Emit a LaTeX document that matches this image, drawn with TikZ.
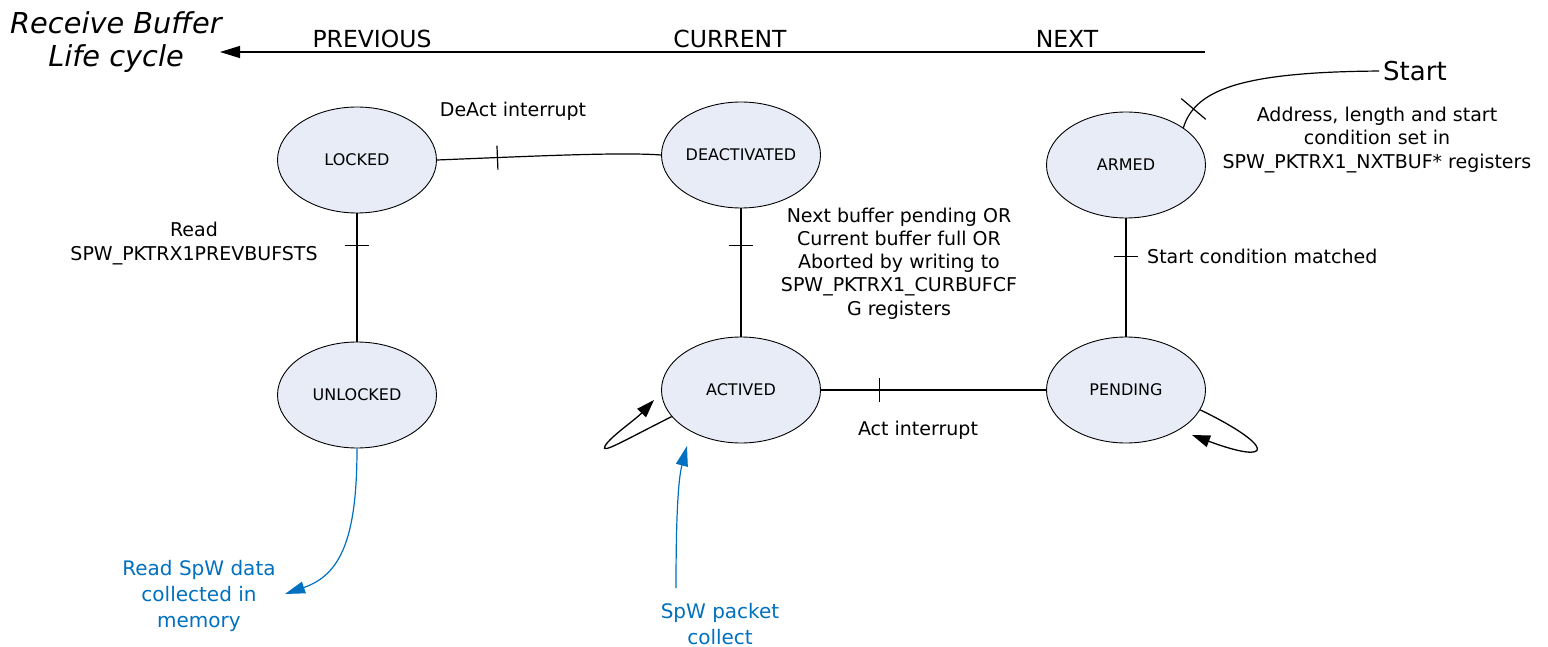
\documentclass[tikz,border=0pt]{standalone}
\usepackage{fontspec}
\setmainfont{DejaVu Sans}
\usetikzlibrary{shapes.geometric,arrows.meta,decorations.markings,calc}
\definecolor{statefill}{RGB}{231,236,247}
\definecolor{noteblue}{RGB}{0,112,192}
\begin{document}
\begin{tikzpicture}[x=1pt,y=1pt,
  state/.style={ellipse, draw=black, line width=0.9pt, fill=statefill,
    minimum width=159pt, minimum height=106pt, inner sep=0pt,
    font=\fontsize{16}{19}\selectfont},
  conn/.style={line width=1.2pt},
  lbl/.style={font=\fontsize{19}{23.25}\selectfont, align=center, inner sep=0pt},
  hdr/.style={font=\fontsize{23.5}{28}\selectfont, inner sep=0pt},
  bluelbl/.style={font=\fontsize{20}{26}\selectfont, align=center, inner sep=0pt, text=noteblue},
  blueconn/.style={line width=1.2pt, draw=noteblue, -{Triangle[length=20pt,width=12pt]}},
  loopconn/.style={line width=1.3pt, -{Triangle[length=18pt,width=12pt]}},
  tickmark/.style={postaction={decorate, decoration={markings,
    mark=at position #1 with {\draw[line width=1.2pt] (0,-12) -- (0,12);}}}},
  longtick/.style={postaction={decorate, decoration={markings,
    mark=at position #1 with {\draw[line width=1.2pt] (0,-16) -- (0,16);}}}}
]
\useasboundingbox (0,0) rectangle (1548,-647);

% title and life-cycle arrow
\node[font=\fontsize{28.8}{33}\selectfont\itshape, align=center, inner sep=0pt] (title) at (116,-41.8) {Receive Buffer\\Life cycle};
\coordinate (arrR) at (1205,-52);
\coordinate (arrL) at (220,-52);
\draw[conn, -{Triangle[length=20pt,width=12pt]}] (arrR) -- (arrL);
\node[hdr, anchor=base] (prev) at (372,-48) {PREVIOUS};
\node[hdr, anchor=base] (curr) at (730,-48) {CURRENT};
\node[hdr, anchor=base] (next) at (1067,-48) {NEXT};

% states
\node[state] (locked) at (357,-160) {LOCKED};
\node[state] (unlocked) at (357,-395) {UNLOCKED};
\node[state] (deact) at (741,-155) {DEACTIVATED};
\node[state] (activ) at (741,-390) {ACTIVED};
\node[state] (armed) at (1126,-165) {ARMED};
\node[state] (pend) at (1126,-390) {PENDING};

% start
\node[font=\fontsize{26}{30}\selectfont, inner xsep=4pt, inner ysep=0pt, anchor=base west] (start) at (1379,-80.5) {Start};
\draw[conn, longtick=0.1] (armed.33) .. controls (1195,-90) and (1240,-72) .. (start.west);
\node[lbl] (addr) at (1377,-140) {Address, length and start\\condition set in\\SPW\_PKTRX1\_NXTBUF* registers};

% transitions
\draw[conn, tickmark=0.27] (locked.east) .. controls +(100,4) and +(-40,3) .. (deact.west);
\node[lbl, anchor=base] (deactlbl) at (513,-117) {DeAct interrupt};

\draw[conn, tickmark=0.25] (locked.south) -- (unlocked.north);
\node[lbl] (readlbl) at (194,-243.5) {Read\\SPW\_PKTRX1PREVBUFSTS};

\draw[conn, tickmark=0.29] (deact.south) -- (activ.north);
\node[lbl] (nextlbl) at (899,-263.5) {Next buffer pending OR\\Current buffer full OR\\Aborted by writing to\\SPW\_PKTRX1\_CURBUFCF\\G registers};

\draw[conn, tickmark=0.32] (armed.south) -- (pend.north);
\node[lbl, anchor=base west] (matchlbl) at (1147,-263) {Start condition matched};

\draw[conn, tickmark=0.26] (activ.east) -- (pend.west);
\node[lbl, anchor=base] (actlbl) at (918,-435) {Act interrupt};

% self loops
\coordinate (loopAtip) at (654,-400);
\draw[loopconn] (activ.201) .. controls (625,-440) and (600,-455) .. (605,-446)
  .. controls (610,-437) and (635,-420) .. (loopAtip);
\coordinate (loopBtip) at (1192,-435);
\draw[loopconn] (pend.-15) .. controls (1275,-446) and (1275,-466) .. (loopBtip);

% blue notes
\coordinate (blueAtip) at (285,-594);
\draw[blueconn] (unlocked.south) .. controls (357,-540) and (340,-575) .. (blueAtip);
\node[bluelbl] (readnote) at (199,-596) {Read SpW data\\collected in\\memory};

\coordinate (blueBstart) at (676,-588);
\coordinate (blueBtip) at (687,-446);
\draw[blueconn] (blueBstart) .. controls (676,-520) and (678,-480) .. (blueBtip);
\node[bluelbl] (spwnote) at (720,-623.7) {SpW packet\\collect};
\end{tikzpicture}
\end{document}
